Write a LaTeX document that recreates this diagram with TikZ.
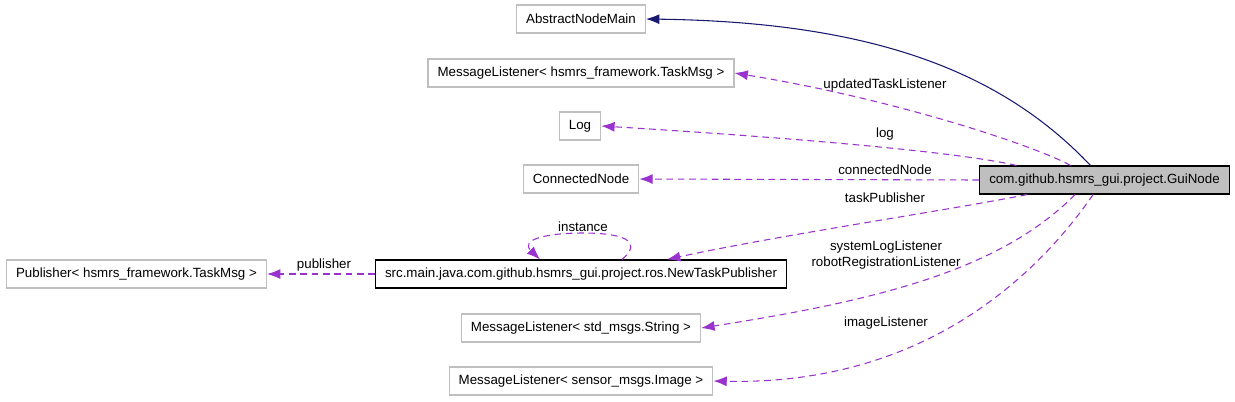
\documentclass[tikz,border=0pt]{standalone}
\usepackage{fontspec}
\setmainfont{Liberation Sans}
\usetikzlibrary{arrows.meta}
\definecolor{edgeblue}{HTML}{191970}
\definecolor{edgepurple}{HTML}{9A32CD}
\definecolor{boxgray}{HTML}{BFBFBF}
\tikzset{
  cls/.style={draw=boxgray, rectangle, line width=0.8pt, minimum height=21pt, inner xsep=7.2pt, font=\fontsize{10}{12}\selectfont},
  curcls/.style={cls, draw=black, fill=boxgray},
  refcls/.style={cls, draw=black},
  inherit/.style={draw=edgeblue, line width=0.8pt, -{Latex[length=10pt,width=7.5pt]}},
  usage/.style={draw=edgepurple, line width=0.8pt, dash pattern=on 5pt off 3.5pt, -{Latex[length=10pt,width=7.5pt]}},
  lbl/.style={inner sep=0pt, align=center, font=\fontsize{10}{12}\selectfont}
}
\begin{document}
\begin{tikzpicture}[x=0.75pt,y=-0.75pt]
\useasboundingbox (0,0) rectangle (1235,401);
\node[cls] (abs) at (581,19) {AbstractNodeMain};
\node[cls] (tasklst) at (581,73) {MessageListener< hsmrs\_framework.TaskMsg >};
\node[cls] (log) at (580,126) {Log};
\node[cls] (conn) at (581,179) {ConnectedNode};
\node[curcls] (gui) at (1104.5,180) {com.github.hsmrs\_gui.project.GuiNode};
\node[refcls] (ntp) at (581,274) {src.main.java.com.github.hsmrs\_gui.project.ros.NewTaskPublisher};
\node[cls] (pub) at (136.5,274) {Publisher< hsmrs\_framework.TaskMsg >};
\node[cls] (strlst) at (581,328) {MessageListener< std\_msgs.String >};
\node[cls] (imglst) at (581,381) {MessageListener< sensor\_msgs.Image >};
\draw[inherit] ([xshift=-10.5pt]gui.north) .. controls (1000,70) and (870,22) .. (abs.east);
\draw[usage] ([xshift=-25.5pt]gui.north) .. controls (1040,148) and (900,100) .. (tasklst.east);
\draw[usage] ([xshift=-66pt]gui.north) .. controls (950,150) and (750,135) .. (log.east);
\draw[usage] (gui.west) -- (conn.east);
\draw[usage] ([xshift=-58pt]gui.south) .. controls (950,210) and (780,235) .. ([xshift=64.5pt]ntp.north);
\draw[usage] ([xshift=-22pt]gui.south) .. controls (1000,270) and (880,300) .. (strlst.east);
\draw[usage] ([xshift=-8.5pt]gui.south) .. controls (1020,300) and (900,385) .. (imglst.east);
\draw[usage] (ntp.west) -- (pub.east);
\draw[usage] ([xshift=30.75pt]ntp.north) .. controls (645,240) and (620,233) .. (583,233) .. controls (545,233) and (520,240) .. ([xshift=-30.75pt]ntp.north);
\node[lbl] (lupd) at (885,85) {updatedTaskListener};
\node[lbl] (llog) at (885,134) {log};
\node[lbl] (lconn) at (885,170) {connectedNode};
\node[lbl] (ltp) at (885,198) {taskPublisher};
\node[lbl] (lsys) at (886,255) {systemLogListener\\robotRegistrationListener};
\node[lbl] (limg) at (886,323) {imageListener};
\node[lbl] (lpub) at (324,265) {publisher};
\node[lbl] (linst) at (583,227) {instance};
\end{tikzpicture}
\end{document}
